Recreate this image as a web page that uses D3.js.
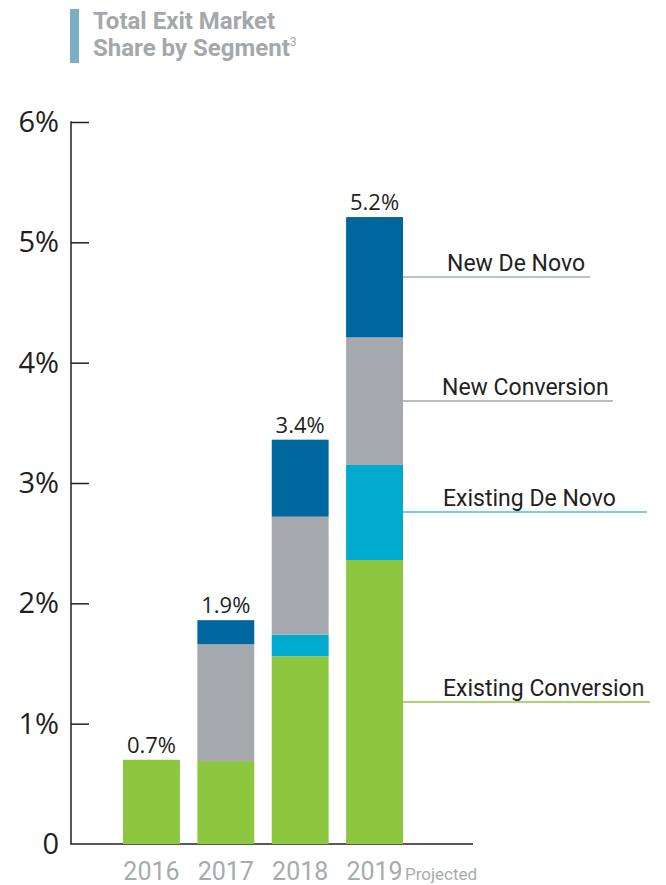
<!DOCTYPE html>
<html>
<head>
<meta charset="utf-8">
<script src="https://cdn.jsdelivr.net/npm/d3@7"></script>
<style>
  html, body { margin: 0; padding: 0; background: #fff; }
  svg { display: block; }
</style>
</head>
<body>
<div id="chart"></div>
<script>
// data (percent share)
const years = ['2016', '2017', '2018', '2019'];
const segments = ['existingConversion', 'existingDeNovo', 'newConversion', 'newDeNovo'];
const segmentNames = ['Existing Conversion', 'Existing De Novo', 'New Conversion', 'New De Novo'];
const existingConversion = [0.70, 0.69, 1.56, 2.36];
const existingDeNovo = [0, 0, 0.18, 0.79];
const newConversion = [0, 0.97, 0.98, 1.06];
const newDeNovo = [0, 0.20, 0.64, 1.00];
const totalLabels = ['0.7%', '1.9%', '3.4%', '5.2%'];
const yTicks = [0, 1, 2, 3, 4, 5, 6];

const colors = {
  existingConversion: '#8dc63f',
  existingDeNovo: '#00aacf',
  newConversion: '#a5a9ad',
  newDeNovo: '#00669e'
};
const legendLineColors = {
  existingConversion: '#8dc63f',
  existingDeNovo: '#45c0dc',
  newConversion: '#a5a9ad',
  newDeNovo: '#9fb0bf'
};

const rows = years.map((y, i) => ({
  year: y,
  existingConversion: existingConversion[i],
  existingDeNovo: existingDeNovo[i],
  newConversion: newConversion[i],
  newDeNovo: newDeNovo[i]
}));

const W = 666, H = 885;
const svg = d3.select('#chart').append('svg')
  .attr('width', W)
  .attr('height', H);

// title block
svg.append('rect')
  .attr('x', 70).attr('y', 9).attr('width', 9).attr('height', 54)
  .attr('fill', '#78afc3');
const title = svg.append('g')
  .attr('font-family', 'Roboto, sans-serif')
  .attr('font-weight', 'bold')
  .attr('font-size', 24)
  .attr('fill', '#a4a8ab');
title.append('text').attr('x', 93).attr('y', 29).text('Total Exit Market');
const t2 = title.append('text').attr('x', 93).attr('y', 56).text('Share by Segment');
t2.append('tspan').attr('font-size', 12).attr('font-weight', 'normal').attr('dy', -10).text('3');

const y = d3.scaleLinear().domain([0, 6]).range([844, 122]);
const x = d3.scaleBand().domain(years).range([123, 403]).paddingInner(0.235).paddingOuter(0);

// y axis
const yAxis = svg.append('g')
  .attr('transform', 'translate(71,0)')
  .call(d3.axisRight(y).tickValues(yTicks.filter(d => d > 0)).tickSize(18).tickFormat(''));
yAxis.select('.domain').remove();
yAxis.selectAll('.tick line').attr('stroke', '#231f20').attr('stroke-width', 1.5);
svg.append('line')
  .attr('x1', 71).attr('x2', 71).attr('y1', y(6) - 0.75).attr('y2', y(0))
  .attr('stroke', '#231f20').attr('stroke-width', 1.5);
svg.append('line')
  .attr('x1', 70.25).attr('x2', 473).attr('y1', y(0)).attr('y2', y(0))
  .attr('stroke', '#231f20').attr('stroke-width', 1.5);

svg.append('g')
  .selectAll('text')
  .data(yTicks)
  .join('text')
  .attr('x', 59)
  .attr('y', d => y(d) + 10)
  .attr('text-anchor', 'end')
  .attr('font-family', '"Open Sans", sans-serif')
  .attr('font-size', 29)
  .attr('fill', '#231f20')
  .text(d => d === 0 ? '0' : d + '%');

// stacked bars
const stack = d3.stack().keys(segments)(rows);
svg.append('g')
  .selectAll('g')
  .data(stack)
  .join('g')
  .attr('fill', d => colors[d.key])
  .selectAll('rect')
  .data(d => d)
  .join('rect')
  .attr('x', d => x(d.data.year))
  .attr('y', d => y(d[1]))
  .attr('width', x.bandwidth())
  .attr('height', d => y(d[0]) - y(d[1]));

// total labels
const topLayer = stack[stack.length - 1];
svg.append('g')
  .selectAll('text')
  .data(topLayer)
  .join('text')
  .attr('x', d => x(d.data.year) + x.bandwidth() / 2)
  .attr('y', d => y(d[1]) - 7)
  .attr('text-anchor', 'middle')
  .attr('font-family', '"Open Sans", sans-serif')
  .attr('font-size', 22)
  .attr('fill', '#231f20')
  .text((d, i) => totalLabels[i]);

// x labels
svg.append('g')
  .selectAll('text')
  .data(years)
  .join('text')
  .attr('x', d => x(d) + x.bandwidth() / 2)
  .attr('y', 880)
  .attr('text-anchor', 'middle')
  .attr('font-family', 'Roboto, sans-serif')
  .attr('font-size', 25)
  .attr('fill', '#a7abae')
  .text(d => d);
svg.append('text')
  .attr('x', x('2019') + x.bandwidth() + 2)
  .attr('y', 880)
  .attr('font-family', 'Roboto, sans-serif')
  .attr('font-size', 17)
  .attr('fill', '#a7abae')
  .text('Projected');

// segment callouts off the 2019 bar
const last = years.length - 1;
const lineEnds = { newDeNovo: 590, newConversion: 613, existingDeNovo: 647, existingConversion: 650 };
const textStarts = { newDeNovo: 447, newConversion: 442, existingDeNovo: 443, existingConversion: 443 };
const callouts = svg.append('g');
stack.forEach((s, i) => {
  const d = s[last];
  const ym = Math.round(y((d[0] + d[1]) / 2));
  const x0 = x(years[last]) + x.bandwidth();
  callouts.append('line')
    .attr('x1', x0).attr('x2', lineEnds[s.key])
    .attr('y1', ym).attr('y2', ym)
    .attr('stroke', legendLineColors[s.key])
    .attr('stroke-width', 1.5);
  callouts.append('text')
    .attr('x', textStarts[s.key])
    .attr('y', ym - 6)
    .attr('font-family', 'Roboto, sans-serif')
    .attr('font-size', 23)
    .attr('fill', '#231f20')
    .text(segmentNames[i]);
});
</script>
</body>
</html>
